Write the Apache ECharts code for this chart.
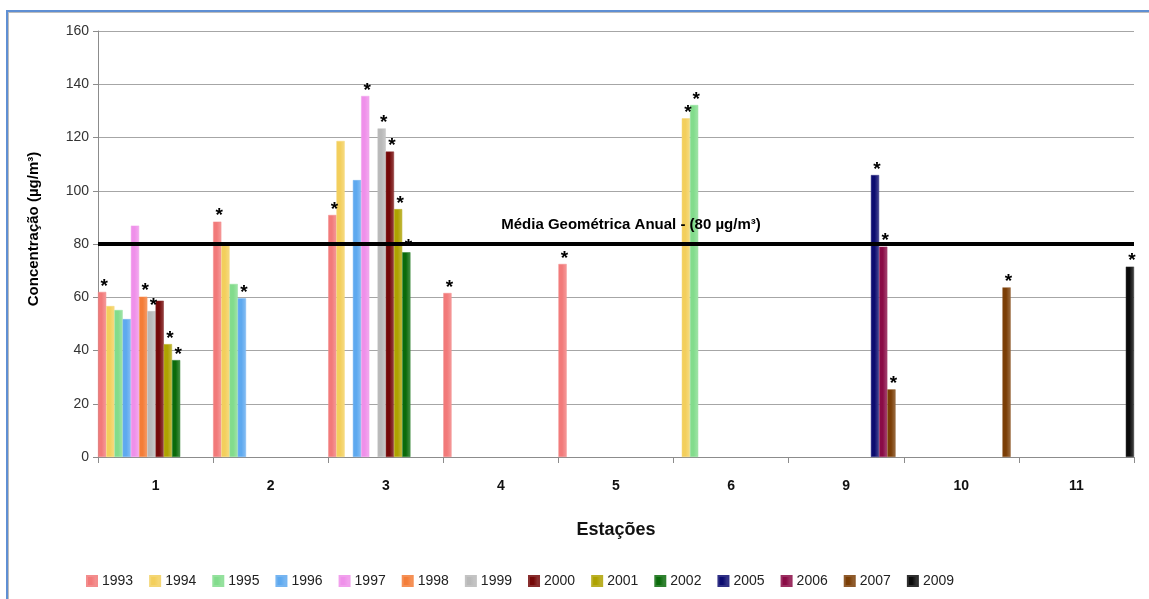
<!DOCTYPE html>
<html>
<head>
<meta charset="utf-8">
<title>Concentração por estação</title>
<script src="https://cdn.jsdelivr.net/npm/echarts@6/dist/echarts.min.js"></script>
<style>
  html, body { margin: 0; padding: 0; background: #ffffff; }
  #frame {
    position: absolute; left: 6px; top: 10px; width: 1160px; height: 600px;
    border-top: 2px solid #5f8fd3; border-left: 2px solid #5f8fd3;
    box-shadow: inset 1px 1px 0 #bdbdbd;
  }
  #chart { position: absolute; left: 0; top: 0; width: 1149px; height: 599px; }
</style>
</head>
<body>
<div id="frame"></div>
<div id="chart"></div>
<script>
// estações (categorias do eixo X)
const estacoes = ['1', '2', '3', '4', '5', '6', '9', '10', '11'];
const anos = ['1993', '1994', '1995', '1996', '1997', '1998', '1999', '2000', '2001', '2002', '2005', '2006', '2007', '2009'];
const yTicks = [0, 20, 40, 60, 80, 100, 120, 140, 160];
const mediaAnual = 80;

// concentração por ano, na ordem das estações
const v1993 = [62.0, 88.4, 90.9, 61.6, 72.5, null, null, null, null];
const v1994 = [56.7, 79.5, 118.7, null, null, 127.2, null, null, null];
const v1995 = [55.2, 65.0, null, null, null, 132.2, null, null, null];
const v1996 = [51.8, 59.6, 104.0, null, null, null, null, null, null];
const v1997 = [86.9, null, 135.6, null, null, null, null, null, null];
const v1998 = [60.2, null, null, null, null, null, null, null, null];
const v1999 = [54.8, null, 123.4, null, null, null, null, null, null];
const v2000 = [58.7, null, 114.7, null, null, null, null, null, null];
const v2001 = [42.4, null, 93.1, null, null, null, null, null, null];
const v2002 = [36.4, null, 76.9, null, null, null, null, null, null];
const v2005 = [null, null, null, null, null, null, 105.9, null, null];
const v2006 = [null, null, null, null, null, null, 79.0, null, null];
const v2007 = [null, null, null, null, null, null, 25.4, 63.7, null];
const v2009 = [null, null, null, null, null, null, null, null, 71.5];

// barras marcadas com asterisco: [ano, estação]
const asteriscos = [
  ['1993', '1'], ['1998', '1'], ['1999', '1'], ['2001', '1'], ['2002', '1'],
  ['1993', '2'], ['1996', '2'],
  ['1993', '3'], ['1997', '3'], ['1999', '3'], ['2000', '3'], ['2001', '3'], ['2002', '3'],
  ['1993', '4'], ['1993', '5'], ['1994', '6'], ['1995', '6'],
  ['2005', '9'], ['2006', '9'], ['2007', '9'], ['2007', '10'], ['2009', '11']
];

const valores = [v1993, v1994, v1995, v1996, v1997, v1998, v1999, v2000, v2001, v2002, v2005, v2006, v2007, v2009];
const cores = ['#f27a7a', '#f3cf5c', '#82dc8c', '#5ea9ef', '#ef90ea', '#f47d38', '#b9b9b9',
  '#740808', '#aea200', '#0b6b0b', '#0c0c70', '#8a0b46', '#7b3e06', '#0b0b0b'];

const chart = echarts.init(document.getElementById('chart'));

const series = anos.map((ano, i) => ({
  name: ano,
  type: 'bar',
  barGap: '0%',
  barCategoryGap: '0%',
  data: valores[i],
  itemStyle: {
    color: new echarts.graphic.LinearGradient(0, 0, 1, 0, [
      { offset: 0, color: cores[i] },
      { offset: 0.45, color: cores[i] },
      { offset: 1, color: echarts.color.lift(cores[i], 0.25) }
    ]),
    borderColor: echarts.color.lift(cores[i], 0.15),
    borderWidth: 0.5
  },
  // asterisco acima das barras marcadas
  label: {
    show: true,
    position: 'top',
    distance: -4,
    offset: [2, 0],
    color: '#000',
    fontSize: 19,
    fontWeight: 'bold',
    fontFamily: 'Liberation Sans',
    formatter: p => asteriscos.some(a => a[0] === ano && a[1] === p.name) ? '*' : ''
  },
  markLine: i === 0 ? {
    silent: true,
    symbol: 'none',
    lineStyle: { color: '#000', width: 4, type: 'solid' },
    label: {
      show: true,
      position: 'middle',
      formatter: 'Média Geométrica Anual - (80 µg/m³)',
      color: '#000',
      fontSize: 15,
      fontWeight: 'bold',
      fontFamily: 'Liberation Sans',
      distance: 12,
      offset: [15, 0]
    },
    data: [{ yAxis: mediaAnual }]
  } : undefined
}));

chart.setOption({
  animation: false,
  backgroundColor: 'transparent',
  textStyle: { fontFamily: 'Liberation Sans' },
  grid: { left: 98, right: 15, top: 31, bottom: 142 },
  legend: {
    data: anos,
    left: 81,
    top: 569,
    icon: 'rect',
    itemWidth: 10,
    itemHeight: 10,
    itemGap: 16,
    textStyle: { fontSize: 14, color: '#222' }
  },
  xAxis: {
    type: 'category',
    data: estacoes,
    name: 'Estações',
    nameLocation: 'middle',
    nameGap: 64,
    nameTextStyle: { fontSize: 18, fontWeight: 'bold', color: '#111' },
    axisLine: { lineStyle: { color: '#8c8c8c' } },
    axisTick: { show: true, length: 6, lineStyle: { color: '#8c8c8c' } },
    axisLabel: { fontSize: 14, fontWeight: 'bold', color: '#111', margin: 22 }
  },
  yAxis: {
    type: 'value',
    min: yTicks[0],
    max: yTicks[yTicks.length - 1],
    interval: 20,
    name: 'Concentração (µg/m³)',
    nameLocation: 'middle',
    nameGap: 57,
    nameTextStyle: { fontSize: 15, fontWeight: 'bold', color: '#000', padding: [0, 0, 0, 30] },
    axisLine: { show: true, lineStyle: { color: '#8c8c8c' } },
    axisTick: { show: true, length: 5, lineStyle: { color: '#8c8c8c' } },
    axisLabel: { fontSize: 14, color: '#333', margin: 9 },
    splitLine: { lineStyle: { color: '#a6a6a6', width: 1 } }
  },
  series: series
});
</script>
</body>
</html>
